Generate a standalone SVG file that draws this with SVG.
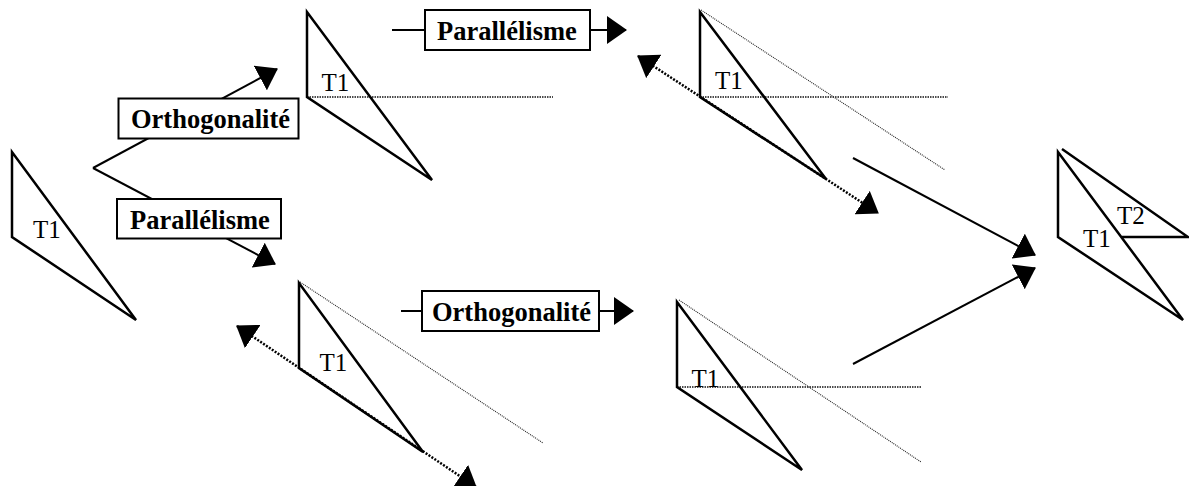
<svg xmlns="http://www.w3.org/2000/svg" width="1189" height="486" viewBox="0 0 1189 486">
<style>
.tri{fill:none;stroke:#000;stroke-width:2.5}
.con{stroke:#000;stroke-width:2;fill:none}
.dash{stroke:#000;stroke-width:2.5;stroke-dasharray:2 1.5;fill:none}
.fine{stroke:#222;stroke-width:1.1;stroke-dasharray:1 1;fill:none}
.hz{stroke:#111;stroke-width:1.3;stroke-dasharray:1.5 1;fill:none}
.box{fill:#fff;stroke:#000;stroke-width:2}
.lbl{font-family:"Liberation Serif","Times New Roman",serif;font-weight:bold;font-size:26.5px;fill:#000}
.t{font-family:"Liberation Serif","Times New Roman",serif;font-size:25px;fill:#000}
</style>
<defs>
<marker id="ah" viewBox="0 0 20 28" refX="19" refY="14" markerWidth="20" markerHeight="28" markerUnits="userSpaceOnUse" orient="auto-start-reverse">
<path d="M0,0 L20,14 L0,28 z" fill="#000"/>
</marker>
</defs>

<g id="connectors">
<line class="con" x1="93" y1="168" x2="277" y2="69" marker-end="url(#ah)"/>
<line class="con" x1="93" y1="168" x2="275" y2="264" marker-end="url(#ah)"/>
<line class="con" x1="392" y1="30" x2="626" y2="30" marker-end="url(#ah)"/>
<line class="con" x1="401" y1="311" x2="633" y2="311" marker-end="url(#ah)"/>
<line class="con" x1="853" y1="158" x2="1035" y2="255" marker-end="url(#ah)"/>
<line class="con" x1="853" y1="364" x2="1035" y2="268" marker-end="url(#ah)"/>
<line class="dash" x1="638" y1="56" x2="878" y2="213" marker-start="url(#ah)" marker-end="url(#ah)"/>
<line class="dash" x1="237" y1="326" x2="476" y2="487" marker-start="url(#ah)" marker-end="url(#ah)"/>
</g>

<g id="box-orth-top">
<rect class="box" x="118.5" y="98.5" width="180" height="40"/>
<text class="lbl" x="131" y="128">Orthogonalité</text>
</g>
<g id="box-para-left">
<rect class="box" x="117" y="199" width="164" height="39.5"/>
<text class="lbl" x="130" y="228.5">Parallélisme</text>
</g>
<g id="box-para-top">
<rect class="box" x="425" y="10" width="165" height="40"/>
<text class="lbl" x="437" y="39.5">Parallélisme</text>
</g>
<g id="box-orth-bottom">
<rect class="box" x="422" y="291" width="177" height="40"/>
<text class="lbl" x="432" y="320.5">Orthogonalité</text>
</g>

<g id="t1-start">
<polygon class="tri" points="12,152 12,237 136,320"/>
<text class="t" x="33" y="238">T1</text>
</g>

<g id="t1-orth-top">
<line class="hz" x1="307" y1="97" x2="553" y2="97"/>
<polygon class="tri" points="307,12 307,97 432,180"/>
<text class="t" x="321.5" y="90.5">T1</text>
</g>

<g id="t1-orth-para">
<line class="hz" x1="700" y1="97" x2="948" y2="97"/>
<line class="fine" x1="701" y1="10" x2="945" y2="170"/>
<polygon class="tri" points="700,12 700,97 826,179"/>
<text class="t" x="715" y="89">T1</text>
</g>

<g id="t1-para-bottom">
<line class="fine" x1="300" y1="282" x2="543" y2="443"/>
<polygon class="tri" points="299,283 299,368 423,452"/>
<text class="t" x="319.5" y="370.5">T1</text>
</g>

<g id="t1-para-orth">
<line class="hz" x1="677" y1="387" x2="922" y2="387"/>
<line class="fine" x1="679" y1="300" x2="921" y2="462"/>
<polygon class="tri" points="677,302 677,387 802,470"/>
<text class="t" x="691.5" y="386.5">T1</text>
</g>

<g id="t1-t2-result">
<polygon class="tri" points="1058,152 1058,237 1183,320"/>
<polyline class="tri" points="1062,149 1188,237 1122,237"/>
<text class="t" x="1083" y="246.5">T1</text>
<text class="t" x="1117" y="223.5">T2</text>
</g>
</svg>
